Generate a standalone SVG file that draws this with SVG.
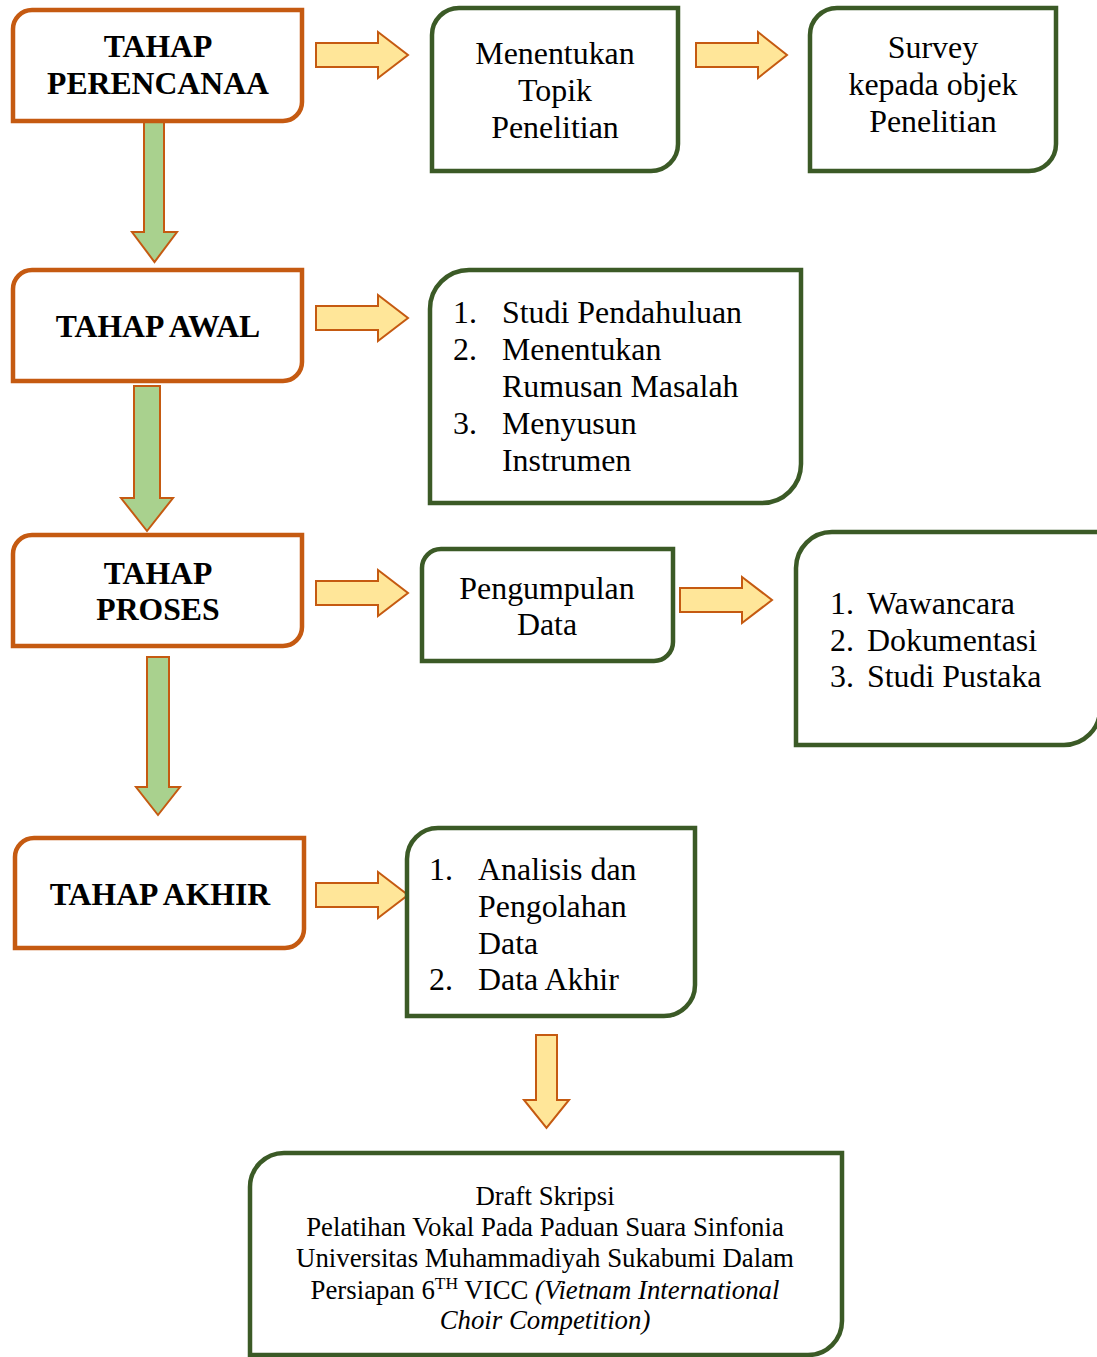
<svg xmlns="http://www.w3.org/2000/svg" width="1097" height="1357" viewBox="0 0 1097 1357">
<style>
.ob{fill:#fff;stroke:#C55A11;stroke-width:4.5}
.gb{fill:#fff;stroke:#3B5A26;stroke-width:4.5}
.ya{fill:#FFE699;stroke:#C55A11;stroke-width:2}
.ga{fill:#A9D18E;stroke:#C55A11;stroke-width:2}
.bt{font-family:"Liberation Serif","Times New Roman",serif;font-weight:bold;font-size:31.7px;fill:#000;text-anchor:middle}
.t{font-family:"Liberation Serif","Times New Roman",serif;font-size:31.9px;fill:#000}
.c{text-anchor:middle}
.s{font-family:"Liberation Serif","Times New Roman",serif;font-size:26.8px;fill:#000;text-anchor:middle}
</style>
<rect width="1097" height="1357" fill="#fff"/>
<g id="connectors">
<polygon class="ga" points="144,119 164,119 164,232 177,232 154.5,262 132,232 144,232"/>
<polygon class="ga" points="134,386 160,386 160,498 173,498 147,531 121,498 134,498"/>
<polygon class="ga" points="147,657 169,657 169,787 180,787 158,815 136,787 147,787"/>
<polygon class="ya" points="536,1035 557,1035 557,1100 569,1100 546.5,1128 524,1100 536,1100"/>
<polygon class="ya" points="316,43 378,43 378,32 408,55 378,78 378,67 316,67"/>
<polygon class="ya" points="696,43 758,43 758,32 787,55 758,78 758,67 696,67"/>
<polygon class="ya" points="316,306 378,306 378,295 408,318 378,341 378,330 316,330"/>
<polygon class="ya" points="316,581 378,581 378,570 408,593 378,616 378,605 316,605"/>
<polygon class="ya" points="680,588 742,588 742,577 772,600 742,623 742,612 680,612"/>
<polygon class="ya" points="316,883 378,883 378,872 408,895 378,918 378,907 316,907"/>
</g>
<g id="n-perencanaan">
<path class="ob" d="M32,10 H302 V102 A19,19 0 0 1 283,121 H13 V29 A19,19 0 0 1 32,10 Z"/>
<text class="bt" x="158" y="57">TAHAP</text>
<text class="bt" x="158" y="94">PERENCANAA</text>
</g>
<g id="n-topik">
<path class="gb" d="M459,8 H678 V144 A27,27 0 0 1 651,171 H432 V35 A27,27 0 0 1 459,8 Z"/>
<text class="t c" x="555" y="64">Menentukan</text>
<text class="t c" x="555" y="101">Topik</text>
<text class="t c" x="555" y="138">Penelitian</text>
</g>
<g id="n-survey">
<path class="gb" d="M837,8 H1056 V144 A27,27 0 0 1 1029,171 H810 V35 A27,27 0 0 1 837,8 Z"/>
<text class="t c" x="933" y="58">Survey</text>
<text class="t c" x="933" y="95">kepada objek</text>
<text class="t c" x="933" y="132">Penelitian</text>
</g>
<g id="n-awal">
<path class="ob" d="M32,270 H302 V362 A19,19 0 0 1 283,381 H13 V289 A19,19 0 0 1 32,270 Z"/>
<text class="bt" x="158" y="337">TAHAP AWAL</text>
</g>
<g id="n-awal-list">
<path class="gb" d="M469,270 H801 V464 A39,39 0 0 1 762,503 H430 V309 A39,39 0 0 1 469,270 Z"/>
<text class="t" x="453" y="323">1.</text><text class="t" x="502" y="323">Studi Pendahuluan</text>
<text class="t" x="453" y="360">2.</text><text class="t" x="502" y="360">Menentukan</text>
<text class="t" x="502" y="397">Rumusan Masalah</text>
<text class="t" x="453" y="434">3.</text><text class="t" x="502" y="434">Menyusun</text>
<text class="t" x="502" y="471">Instrumen</text>
</g>
<g id="n-proses">
<path class="ob" d="M32,535 H302 V627 A19,19 0 0 1 283,646 H13 V554 A19,19 0 0 1 32,535 Z"/>
<text class="bt" x="158" y="584">TAHAP</text>
<text class="bt" x="158" y="620">PROSES</text>
</g>
<g id="n-pengumpulan">
<path class="gb" d="M441,549 H673 V642 A19,19 0 0 1 654,661 H422 V568 A19,19 0 0 1 441,549 Z"/>
<text class="t c" x="547" y="599">Pengumpulan</text>
<text class="t c" x="547" y="635">Data</text>
</g>
<g id="n-metode">
<path class="gb" d="M832,532 H1100 V709 A36,36 0 0 1 1064,745 H796 V568 A36,36 0 0 1 832,532 Z"/>
<text class="t" x="830" y="614">1.</text><text class="t" x="867" y="614">Wawancara</text>
<text class="t" x="830" y="651">2.</text><text class="t" x="867" y="651">Dokumentasi</text>
<text class="t" x="830" y="687">3.</text><text class="t" x="867" y="687">Studi Pustaka</text>
</g>
<g id="n-akhir">
<path class="ob" d="M34,838 H304 V929 A19,19 0 0 1 285,948 H15 V857 A19,19 0 0 1 34,838 Z"/>
<text class="bt" x="160" y="905">TAHAP AKHIR</text>
</g>
<g id="n-akhir-list">
<path class="gb" d="M438,828 H695 V985 A31,31 0 0 1 664,1016 H407 V859 A31,31 0 0 1 438,828 Z"/>
<text class="t" x="429" y="880">1.</text><text class="t" x="478" y="880">Analisis dan</text>
<text class="t" x="478" y="917">Pengolahan</text>
<text class="t" x="478" y="954">Data</text>
<text class="t" x="429" y="990">2.</text><text class="t" x="478" y="990">Data Akhir</text>
</g>
<g id="n-draft">
<path class="gb" d="M284,1153 H842 V1321 A34,34 0 0 1 808,1355 H250 V1187 A34,34 0 0 1 284,1153 Z"/>
<text class="s" x="545" y="1205">Draft Skripsi</text>
<text class="s" x="545" y="1236">Pelatihan Vokal Pada Paduan Suara Sinfonia</text>
<text class="s" x="545" y="1267">Universitas Muhammadiyah Sukabumi Dalam</text>
<text class="s" x="545" y="1299">Persiapan 6<tspan font-size="17.5" dy="-10">TH</tspan><tspan dy="10"> VICC </tspan><tspan font-style="italic">(Vietnam International</tspan></text>
<text class="s" x="545" y="1329" font-style="italic">Choir Competition)</text>
</g>
</svg>
